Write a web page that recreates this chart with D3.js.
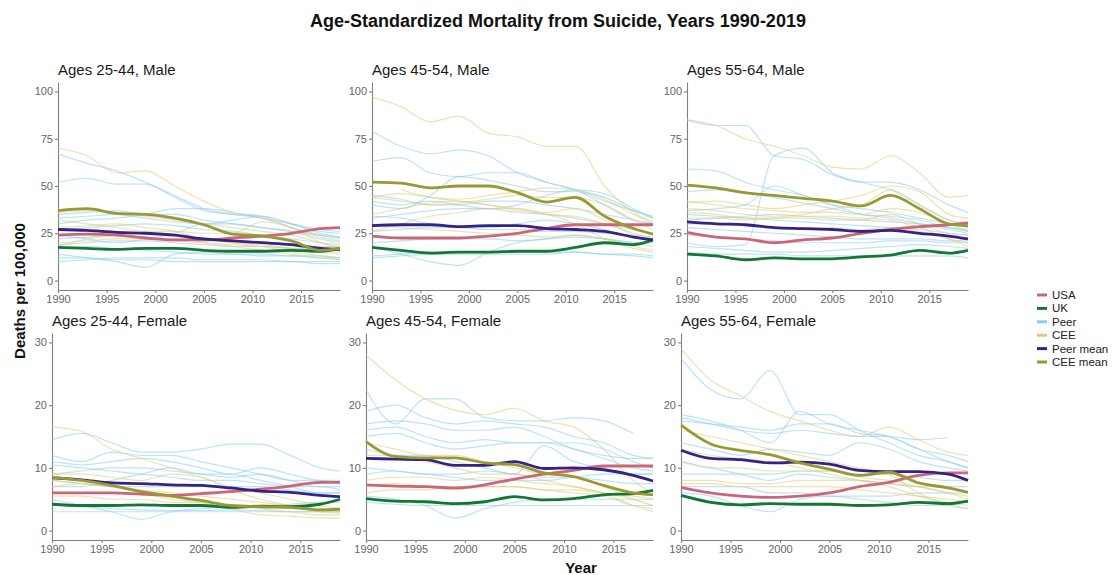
<!DOCTYPE html>
<html>
<head>
<meta charset="utf-8">
<script src="https://cdn.jsdelivr.net/npm/d3@7"></script>
<style>
  body { margin: 0; background: #fff; }
  svg { font-family: "Liberation Sans", Arial, sans-serif; }
  .axis path, .axis line { stroke: #808080; stroke-width: 1.1; }
  .axis text { fill: #666; font-size: 11px; }
</style>
</head>
<body>
<div id="chart"></div>
<script>
// sampled years used for every series
var years = [1990, 1993, 1996, 1999, 2002, 2005, 2008, 2011, 2014, 2017, 2019];
var xTicks = [1990, 1995, 2000, 2005, 2010, 2015];
var yTicksMale = [0, 25, 50, 75, 100];
var yTicksFemale = [0, 10, 20, 30];
var panelTitles = ["Ages 25-44, Male", "Ages 45-54, Male", "Ages 55-64, Male",
                   "Ages 25-44, Female", "Ages 45-54, Female", "Ages 55-64, Female"];
var seriesNames = ["USA", "UK", "Peer", "CEE", "Peer mean", "CEE mean"];
var seriesColors = ["#cc6677", "#117733", "#88ccee", "#ddcc77", "#332288", "#999933"];

// Males 25-44
var usaM1 = [24, 24.5, 24, 22.5, 21.5, 21.5, 22.5, 23.5, 25, 27.5, 28];
var ukM1 = [17.5, 17, 16.5, 17, 17, 16, 15.5, 15.5, 16, 15.5, 17];
var peerMeanM1 = [27, 26.5, 25.5, 25, 24, 22, 21, 20, 19, 17, 16.5];
var ceeMeanM1 = [37, 38, 35.5, 35, 33, 29.5, 24.5, 23.5, 21, 16, 17];
var peerM1 = [
  [67, 62, 58, 52, 45, 38, 35, 33, 28, 24, 22],
  [52, 54, 51, 51, 44, 37, 35, 34, 30, 26, 25],
  [35, 36, 37, 35, 35, 32, 30, 28, 26, 24, 23],
  [30, 32, 33, 35, 38, 38, 36, 33, 30, 27, 26],
  [27, 28, 29, 30, 29, 27, 26, 24, 22, 20, 19],
  [22, 23, 24, 23, 22, 21, 21, 20, 19, 18, 18],
  [19, 20, 21, 21, 20, 19, 18, 18, 17, 17, 16],
  [14, 12, 10, 7, 14, 15, 14, 14, 13, 13, 12],
  [10, 11, 12, 12, 12, 11, 11, 11, 10, 10, 10],
  [12, 12, 11, 11, 10, 10, 10, 10, 10, 9, 9],
  [24, 22, 20, 22, 25, 30, 30, 28, 26, 22, 20],
  [17, 18, 17, 16, 15, 14, 14, 13, 13, 12, 12],
  [33, 34, 35, 33, 31, 30, 32, 34, 30, 25, 23]
];
var ceeM1 = [
  [70, 66, 57, 58, 50, 42, 36, 34, 28, 23, 21],
  [36, 37, 36, 34, 32, 30, 28, 26, 24, 20, 18],
  [32, 30, 28, 26, 26, 25, 25, 31, 28, 20, 17],
  [18, 22, 24, 25, 24, 22, 20, 19, 17, 15, 14],
  [28, 29, 30, 28, 26, 22, 20, 18, 15, 13, 11],
  [24, 25, 26, 25, 24, 20, 18, 16, 14, 12, 11],
  [20, 21, 22, 22, 21, 20, 19, 18, 17, 16, 15]
];

// Males 45-54
var usaM2 = [23.5, 22.5, 22.5, 22.5, 23.5, 25, 27.5, 29.5, 29.5, 29.5, 29.5];
var ukM2 = [17.5, 16, 14.5, 15, 15, 15.5, 15.5, 17.5, 20, 19, 21.5];
var peerMeanM2 = [29, 29.5, 29.5, 28.5, 29, 29, 27.5, 27, 26, 23, 21.5];
var ceeMeanM2 = [52, 51.5, 49, 50, 50, 46.5, 41.5, 44, 34, 27.5, 24.5];
var peerM2 = [
  [79, 71, 67, 69, 66, 57, 52, 48, 44, 37, 33],
  [63, 65, 57, 55, 57, 57, 52, 48, 40, 32, 30],
  [18, 14, 10, 8, 15, 20, 22, 24, 22, 20, 18],
  [40, 38, 45, 55, 53, 50, 47, 47, 42, 37, 34],
  [45, 43, 40, 40, 42, 42, 40, 38, 35, 32, 30],
  [33, 35, 37, 38, 38, 36, 35, 33, 30, 27, 25],
  [26, 27, 28, 28, 27, 27, 26, 26, 25, 24, 23],
  [20, 21, 22, 22, 22, 21, 22, 23, 22, 20, 20],
  [13, 14, 15, 15, 15, 15, 15, 15, 14, 14, 13],
  [12, 13, 14, 14, 14, 14, 14, 15, 14, 13, 12],
  [34, 33, 30, 28, 28, 30, 32, 30, 27, 23, 22],
  [42, 40, 42, 40, 38, 40, 45, 48, 46, 38, 33]
];
var ceeM2 = [
  [97, 92, 84, 87, 78, 76, 71, 71, 50, 36, 31],
  [44, 46, 44, 43, 45, 47, 49, 48, 43, 35, 30],
  [44, 42, 40, 41, 43, 45, 44, 44, 40, 32, 27],
  [35, 38, 41, 42, 40, 38, 35, 34, 30, 25, 22],
  [26, 30, 34, 36, 38, 38, 36, 38, 32, 24, 20],
  [null, 48, 44, 42, 40, 37, 35, 30, 22, 17, 15],
  [30, 28, 27, 26, 25, 24, 23, 24, 22, 18, 16]
];

// Males 55-64
var usaM3 = [25.5, 23, 22, 20, 21.5, 22.5, 25, 27, 28.5, 29.5, 30.5];
var ukM3 = [14, 13, 11, 12, 11.5, 11.5, 12.5, 13.5, 16, 14.5, 16];
var peerMeanM3 = [31, 30, 29.5, 28, 27.5, 27, 26, 26.5, 25, 23.5, 22];
var ceeMeanM3 = [50.5, 49, 46.5, 45, 43.5, 42, 39.5, 45, 38, 30, 29];
var peerM3 = [
  [85, 82, 82, 66, 64, 56, 52, 52, 48, 40, 36],
  [20, 18, 19, 66, 70, 57, 52, 48, 40, 32, 30],
  [59, 58, 52, 48, 45, 40, 38, 36, 33, 30, 28],
  [47, 48, 46, 44, 41, 38, 35, 34, 32, 28, 26],
  [37, 38, 40, 50, 45, 40, 35, 33, 30, 27, 25],
  [35, 34, 33, 32, 31, 30, 29, 28, 27, 25, 24],
  [24, 23, 22, 21, 20, 20, 20, 21, 21, 20, 20],
  [18, 17, 16, 15, 15, 16, 17, 18, 19, 18, 17],
  [15, 14, 14, 14, 13, 13, 13, 13, 13, 13, 12],
  [28, 27, 26, 25, 24, 23, 22, 22, 22, 21, 21],
  [32, 33, 34, 35, 34, 33, 32, 31, 30, 28, 27]
];
var ceeM3 = [
  [85, 82, 75, 71, 66, 60, 59, 66, 57, 44, 45],
  [41, 42, 40, 38, 40, 42, 45, 50, 47, 35, 33],
  [38, 37, 35, 34, 35, 38, 40, 48, 40, 32, 28],
  [36, 35, 33, 33, 33, 32, 32, 35, 30, 25, 24],
  [33, 33, 32, 33, 34, 34, 33, 32, 28, 22, 18],
  [30, 30, 29, 28, 28, 28, 27, 28, 26, 22, 20],
  [42, 40, 38, 37, 36, 36, 35, 38, 36, 30, 26]
];

// Females 25-44
var usaF1 = [6, 6, 6, 5.8, 5.6, 5.9, 6.2, 6.6, 7.1, 7.7, 7.7];
var ukF1 = [4.2, 4, 4, 4.1, 4, 4, 3.7, 3.9, 3.8, 4.2, 5];
var peerMeanF1 = [8.4, 8.1, 7.6, 7.5, 7.3, 7.2, 6.8, 6.3, 6.1, 5.6, 5.4];
var ceeMeanF1 = [8.5, 8, 7.2, 6.2, 5.5, 4.8, 4, 3.8, 3.7, 3.3, 3.4];
var peerF1 = [
  [14.5, 15.5, 14, 12.5, 12.5, 13, 13.8, 13.8, 12, 10, 9.5],
  [12, 11, 12.5, 12, 12, 11, 10, 9, 8, 8, 7.5],
  [11, 10.5, 11, 11.5, 11, 10, 9, 10, 9, 8, 8],
  [10.5, 10, 9.5, 9, 8.5, 8, 8, 7.5, 7, 7, 6.5],
  [8, 7.5, 7, 7, 7, 7, 7, 7, 6.5, 6, 6],
  [5, 4, 3, 1.8, 3, 3.5, 3.8, 4, 4.2, 4.5, 4.5],
  [4, 3.8, 3.5, 3.3, 3.2, 3.2, 3.3, 3.2, 3, 3, 3],
  [3, 3, 3, 3, 3, 3, 3, 3, 3, 3, 3],
  [7, 7, 8, 9, 10, 9, 9, 8, 7, 6, 6],
  [9, 9.5, 10, 10, 9.5, 9, 8.5, 9, 8, 7, 7]
];
var ceeF1 = [
  [16.5, 15.8, 13, 11.5, 10, 8.5, 7, 6, 5, 4, 3.5],
  [8, 7.5, 7, 6.5, 6, 5.5, 5, 4.5, 4, 3.5, 3],
  [5.5, 5.5, 5, 5, 4.5, 4.5, 4, 3.5, 3, 2.5, 2.5],
  [7, 7.5, 7, 6, 5, 4.5, 3.5, 2.5, 2.3, 2, 2],
  [9, 9, 8.5, 8, 9, 8.5, 6.5, 5, 4, 3, 2.8]
];

// Females 45-54
var usaF2 = [7.3, 7.1, 7, 6.8, 7.3, 8.2, 9, 9.6, 10.3, 10.3, 10.3];
var ukF2 = [5.1, 4.7, 4.6, 4.3, 4.6, 5.4, 4.9, 5.1, 5.7, 5.9, 6.4];
var peerMeanF2 = [11.5, 11.4, 11.3, 10.4, 10.4, 11, 9.9, 10, 9.7, 8.8, 7.9];
var ceeMeanF2 = [14.2, 11.8, 11.6, 11.6, 10.8, 10.5, 9.2, 8.6, 7.2, 6, 5.7];
var peerF2 = [
  [22.5, 17, 21, 21, 18, 17.5, 17.5, 18, 17.5, 15.5, null],
  [19, 20, 18, 17, 17.5, 17, 16.5, 15, 14, 12, 11.5],
  [17, 17.5, 17, 16, 16, 16.5, 15, 13, 12, 11.5, 11.5],
  [16, 16.5, 15, 14, 14.5, 14, 14, 14, 13, 11, 10],
  [15, 15.5, 14, 13, 13.5, 14, 14, 13, 11.5, 10, 9.5],
  [13, 12, 12, 11, 10, 9, 13.5, 11, 10, 9, 9],
  [10, 9.5, 9, 8.5, 8, 8, 8, 8.5, 9, 9, 9],
  [5.5, 5, 4, 2, 3.5, 4.5, 5, 5, 5, 5, 5],
  [4.5, 4.2, 4, 4, 4, 4, 4, 4, 4, 4, 4],
  [9, 9.5, 9, 9, 9.5, 9, 8.5, 8.5, 8, 7.5, 7.5]
];
var ceeF2 = [
  [28, 24, 21, 19.2, 18.5, 19.5, 17.5, 16.5, 13, 8, 6],
  [8, 8.5, 8.5, 8, 8.5, 8, 7.5, 7, 6, 5, 4],
  [7, 7.5, 7, 6.5, 7, 7, 6.5, 6, 5.5, 4, 3.5],
  [12, 12, 11, 10, 9, 9, 8, 7, 6, 4, 3],
  [6, 6.5, 6.5, 7, 7, 7, 6.5, 6.5, 6, 5.5, 5],
  [14, 13, 12, 12, 11, 10, 9, 8.5, 7, 5, 4]
];

// Females 55-64
var usaF3 = [6.9, 6, 5.5, 5.3, 5.5, 6, 7, 7.7, 8.8, 9.2, 9.2];
var ukF3 = [5.6, 4.5, 4.1, 4.3, 4.2, 4.2, 4, 4.1, 4.5, 4.3, 4.7];
var peerMeanF3 = [12.8, 11.5, 11.3, 10.8, 10.9, 10.6, 9.6, 9.4, 9.4, 9, 8];
var ceeMeanF3 = [16.8, 13.8, 12.8, 12.1, 10.8, 9.8, 8.8, 9.3, 7.6, 6.8, 6.1];
var peerF3 = [
  [27.5, 22.5, 21, 25.5, 18.5, 18.5, 16, 14, 12, 11, 10],
  [18.5, 17.5, 16, 14, 19, 17, 16, 15, 13, 12, 11],
  [18, 17, 16, 15.5, 16, 15.5, 15, 15, 14.5, 14.8, null],
  [17.5, 17, 16.5, 16, 17, 17, 15.5, 15, 13, 11, 10],
  [14, 13, 12, 13, 12.5, 12, 14, 13, 11, 10, 9.5],
  [11, 10, 9, 8, 9, 8.5, 8, 7.5, 7, 7, 7],
  [7, 7, 7, 6, 6, 5.5, 5.5, 5.5, 6, 6, 6],
  [6, 5.5, 4, 3, 5, 5.5, 5, 4.5, 4, 4, 3.5],
  [9, 9, 9, 9, 9.5, 9.5, 9, 9, 8.5, 8, 8]
];
var ceeF3 = [
  [29, 24, 21.5, 19, 17.5, 16, 15, 16.5, 14.5, 12.5, 12],
  [8, 8, 7.5, 7.5, 8, 8, 8, 7.5, 7, 6, 5],
  [7.5, 7.5, 7, 7, 7, 7, 6.5, 6, 5.5, 5, 4.5],
  [13, 12, 11.5, 11, 10, 9, 8, 7, 5.5, 4.5, 4],
  [11, 10, 10, 9.5, 9.5, 9.5, 8.5, 8, 7, 6, 5.5],
  [16, 15, 14, 13, 12, 11, 10, 9, 6, 4, 3.5]
];

var panels = [
  {usa: usaM1, uk: ukM1, peerMean: peerMeanM1, ceeMean: ceeMeanM1, peer: peerM1, cee: ceeM1},
  {usa: usaM2, uk: ukM2, peerMean: peerMeanM2, ceeMean: ceeMeanM2, peer: peerM2, cee: ceeM2},
  {usa: usaM3, uk: ukM3, peerMean: peerMeanM3, ceeMean: ceeMeanM3, peer: peerM3, cee: ceeM3},
  {usa: usaF1, uk: ukF1, peerMean: peerMeanF1, ceeMean: ceeMeanF1, peer: peerF1, cee: ceeF1},
  {usa: usaF2, uk: ukF2, peerMean: peerMeanF2, ceeMean: ceeMeanF2, peer: peerF2, cee: ceeF2},
  {usa: usaF3, uk: ukF3, peerMean: peerMeanF3, ceeMean: ceeMeanF3, peer: peerF3, cee: ceeF3}
];

// panel placement in pixels
var layout = [
  {x0: 58, x1: 340, y0: 82, y1: 290},
  {x0: 372, x1: 653, y0: 82, y1: 290},
  {x0: 687, x1: 968, y0: 82, y1: 290},
  {x0: 52, x1: 340, y0: 333, y1: 540},
  {x0: 366, x1: 653, y0: 333, y1: 540},
  {x0: 681, x1: 968, y0: 333, y1: 540}
];

var width = 1113, height = 575;
var svg = d3.select("#chart").append("svg")
  .attr("width", width)
  .attr("height", height);

svg.append("text")
  .attr("x", 558)
  .attr("y", 27)
  .attr("text-anchor", "middle")
  .style("font-size", "18px")
  .style("font-weight", "bold")
  .style("fill", "#111")
  .text("Age-Standardized Mortality from Suicide, Years 1990-2019");

panels.forEach(function (p, i) {
  var box = layout[i];
  var male = i < 3;
  var x = d3.scaleLinear().domain([1990, 2019]).range([box.x0, box.x1]);
  var y = d3.scaleLinear()
    .domain(male ? [-5, 105] : [-1.5, 31.5])
    .range([box.y1, box.y0]);

  var g = svg.append("g");

  g.append("g")
    .attr("class", "axis")
    .attr("transform", "translate(" + box.x0 + ",0)")
    .call(d3.axisLeft(y).tickValues(male ? yTicksMale : yTicksFemale)
      .tickSize(3).tickSizeOuter(0).tickPadding(2));

  g.append("g")
    .attr("class", "axis")
    .attr("transform", "translate(0," + box.y1 + ")")
    .call(d3.axisBottom(x).tickValues(xTicks).tickFormat(d3.format("d"))
      .tickSize(3).tickSizeOuter(0).tickPadding(2));

  g.append("text")
    .attr("x", box.x0)
    .attr("y", box.y0 - 7)
    .style("font-size", "15px")
    .style("fill", "#1a1a1a")
    .text(panelTitles[i]);

  var line = d3.line()
    .defined(function (d) { return d != null; })
    .x(function (d, k) { return x(years[k]); })
    .y(function (d) { return y(d); })
    .curve(d3.curveMonotoneX);

  // thin country lines
  g.selectAll(".peer")
    .data(p.peer)
    .enter().append("path")
      .attr("d", line)
      .attr("fill", "none")
      .attr("stroke", seriesColors[2])
      .attr("stroke-opacity", 0.55)
      .attr("stroke-width", 1.2);

  g.selectAll(".cee")
    .data(p.cee)
    .enter().append("path")
      .attr("d", line)
      .attr("fill", "none")
      .attr("stroke", seriesColors[3])
      .attr("stroke-opacity", 0.55)
      .attr("stroke-width", 1.2);

  // thick lines on top
  [[p.usa, 0], [p.uk, 1], [p.peerMean, 4], [p.ceeMean, 5]].forEach(function (s) {
    g.append("path")
      .datum(s[0])
      .attr("d", line)
      .attr("fill", "none")
      .attr("stroke", seriesColors[s[1]])
      .attr("stroke-width", 2.8)
      .attr("stroke-linejoin", "round");
  });
});

// axis titles
svg.append("text")
  .attr("transform", "translate(25,291) rotate(-90)")
  .attr("text-anchor", "middle")
  .style("font-size", "15px")
  .style("font-weight", "bold")
  .style("fill", "#111")
  .text("Deaths per 100,000");

svg.append("text")
  .attr("x", 581)
  .attr("y", 573)
  .attr("text-anchor", "middle")
  .style("font-size", "15px")
  .style("font-weight", "bold")
  .style("fill", "#111")
  .text("Year");

// legend
var legend = svg.append("g")
  .attr("transform", "translate(1037,295)");
var item = legend.selectAll("g")
  .data(seriesNames)
  .enter().append("g")
    .attr("transform", function (d, i) { return "translate(0," + (i * 13.4) + ")"; });
item.append("line")
  .attr("x1", 0)
  .attr("x2", 10)
  .attr("stroke", function (d, i) { return seriesColors[i]; })
  .attr("stroke-width", 3);
item.append("text")
  .attr("x", 15)
  .attr("dy", "0.35em")
  .style("font-size", "11.5px")
  .style("fill", "#222")
  .text(function (d) { return d; });
</script>
</body>
</html>
